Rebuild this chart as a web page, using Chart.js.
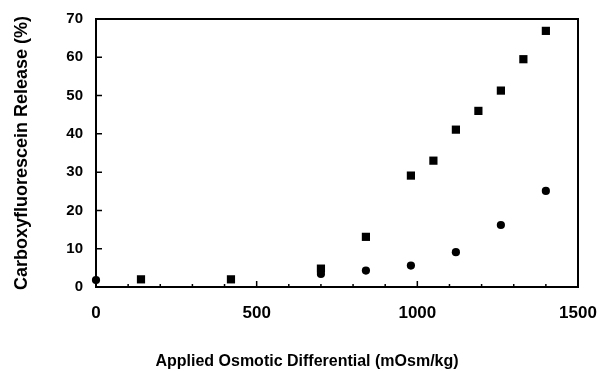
<!DOCTYPE html>
<html>
<head>
<meta charset="utf-8">
<script src="https://cdn.jsdelivr.net/npm/chart.js@4/dist/chart.umd.min.js"></script>
<style>
  html, body { margin: 0; padding: 0; background: #fff; }
  #wrap { width: 603px; height: 371px; }
</style>
</head>
<body>
<div id="wrap"><canvas id="chart" width="603" height="371"></canvas></div>
<script>
// squares (upper series)
const squareX = [140, 420, 700, 840, 980, 1050, 1120, 1190, 1260, 1330, 1400];
const squareY = [2.0, 2.0, 4.8, 13.1, 29.1, 33.0, 41.1, 46.0, 51.3, 59.5, 66.9];
// circles (lower series)
const circleX = [0, 700, 840, 980, 1120, 1260, 1400];
const circleY = [1.8, 3.4, 4.3, 5.6, 9.1, 16.2, 25.1];

const xTickLabels = [0, 500, 1000, 1500];
const yTickLabels = [0, 10, 20, 30, 40, 50, 60, 70];
const xTitle = "Applied Osmotic Differential (mOsm/kg)";
const yTitle = "Carboxyfluorescein Release (%)";

function toPoints(xs, ys) {
	return xs.map((x, i) => ({ x: x, y: ys[i] }));
}

const font = "'Liberation Sans', Arial, Helvetica, sans-serif";

// box around the plot, inward ticks, and the x title (sits left of centre in the original)
const frame = {
	id: "frame",
	afterDraw(chart) {
		const ctx = chart.ctx;
		const a = chart.chartArea;
		const xs = chart.scales.x;
		const ys = chart.scales.y;
		ctx.save();
		ctx.strokeStyle = "#000";
		ctx.lineWidth = 2;
		ctx.strokeRect(a.left, a.top, a.right - a.left, a.bottom - a.top);
		ctx.lineWidth = 1.5;
		ctx.beginPath();
		for (let v = 100; v < 1500; v += 100) {
			const px = xs.getPixelForValue(v);
			const len = v % 500 === 0 ? 6 : 3;
			ctx.moveTo(px, a.bottom);
			ctx.lineTo(px, a.bottom - len);
		}
		for (let v = 10; v < 70; v += 10) {
			const py = ys.getPixelForValue(v);
			ctx.moveTo(a.left, py);
			ctx.lineTo(a.left + 6, py);
		}
		ctx.stroke();

		ctx.fillStyle = "#000";
		ctx.font = "bold 16px " + font;
		ctx.textAlign = "center";
		ctx.textBaseline = "alphabetic";
		ctx.fillText(xTitle, 307, 366);
		ctx.restore();
	}
};

new Chart(document.getElementById("chart").getContext("2d"), {
	type: "scatter",
	data: {
		datasets: [
			{
				label: "squares",
				data: toPoints(squareX, squareY),
				pointStyle: "rect",
				pointRadius: 5.8,
				backgroundColor: "#000",
				borderColor: "#000",
				borderWidth: 0
			},
			{
				label: "circles",
				data: toPoints(circleX, circleY),
				pointStyle: "circle",
				pointRadius: 4.1,
				backgroundColor: "#000",
				borderColor: "#000",
				borderWidth: 0
			}
		]
	},
	options: {
		responsive: false,
		animation: false,
		clip: false,
		layout: { padding: { left: 0, right: 25, top: 19, bottom: 0 } },
		plugins: {
			legend: { display: false },
			tooltip: { enabled: false }
		},
		scales: {
			x: {
				type: "linear",
				min: 0,
				max: 1500,
				afterBuildTicks(scale) {
					scale.ticks = xTickLabels.map(v => ({ value: v }));
				},
				afterFit(scale) {
					scale.height = 84;
					scale.paddingLeft = 0;
					scale.paddingRight = 0;
				},
				grid: { display: false, drawTicks: false },
				border: { display: false },
				ticks: {
					color: "#000",
					padding: 16,
					maxRotation: 0,
					callback: v => String(v),
					font: { family: font, size: 17, weight: "bold" }
				}
			},
			y: {
				type: "linear",
				min: 0,
				max: 70,
				afterBuildTicks(scale) {
					scale.ticks = yTickLabels.map(v => ({ value: v }));
				},
				afterFit(scale) {
					scale.width = 96;
					scale.paddingTop = 0;
					scale.paddingBottom = 0;
				},
				grid: { display: false, drawTicks: false },
				border: { display: false },
				ticks: {
					color: "#000",
					padding: 13,
					callback: v => String(v),
					font: { family: font, size: 15, weight: "bold" }
				},
				title: {
					display: true,
					text: yTitle,
					color: "#000",
					padding: { top: 11, bottom: 0 },
					font: { family: font, size: 18, weight: "bold" }
				}
			}
		}
	},
	plugins: [frame]
});
</script>
</body>
</html>
